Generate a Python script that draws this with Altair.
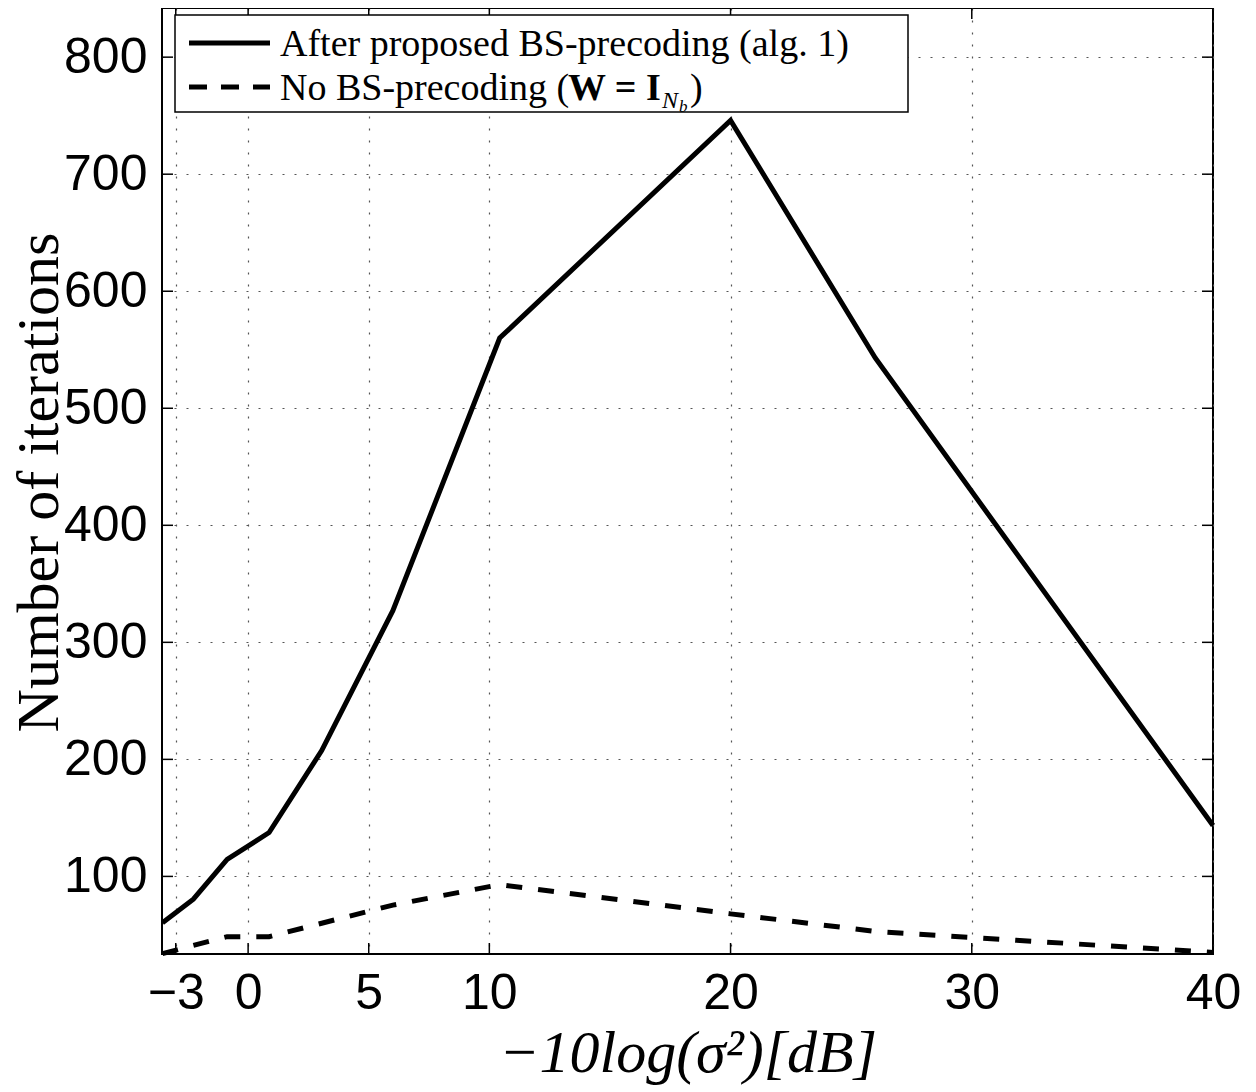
import altair as alt
import pandas as pd

# ---- data ----
x_db = [-3.55, -2.27, -0.87, 0.87, 3.05, 6.0, 10.43, 20.0, 26.0, 40.0]
iters_proposed = [60.5, 80.5, 114.5, 137.5, 207.5, 327, 560, 746, 543, 143.5]
iters_identity = [34, 41, 48.5, 48.5, 60, 75.5, 93, 68, 53, 35]
x_ticks = [-3, 0, 5, 10, 20, 30, 40]
y_ticks = [100, 200, 300, 400, 500, 600, 700, 800]
series_names = ["After proposed BS-precoding (alg. 1)", "No BS-precoding"]

W, H = 1051, 946
x_dom = [-3.57, 40]
y_dom = [33.7, 842]

df = pd.DataFrame({
    "x": x_db + x_db,
    "y": iters_proposed + iters_identity,
    "series": [series_names[0]] * len(x_db) + [series_names[1]] * len(x_db),
})

xs = alt.Scale(domain=x_dom, nice=False, zero=False)
ys = alt.Scale(domain=y_dom, nice=False, zero=False)

x_axis = alt.Axis(
    values=x_ticks, grid=True, gridDash=[2, 10], gridColor="#555", gridWidth=1.2,
    ticks=False, tickSize=0, domain=False, labelOverlap=False, labelFlush=False,
    labelFont="Liberation Sans", labelFontSize=50, labelColor="black",
    labelBaseline="alphabetic", labelPadding=54,
    title="−10log(σ²)[dB]", titleFont="Liberation Serif", titleFontStyle="italic",
    titleFontWeight="normal", titleFontSize=60, titleColor="black",
    titleBaseline="alphabetic", titleY=117,
)
y_axis = alt.Axis(
    values=y_ticks, grid=True, gridDash=[2, 10], gridColor="#555", gridWidth=1.2,
    ticks=False, tickSize=0, domain=False, labelOverlap=False, labelFlush=False,
    labelFont="Liberation Sans", labelFontSize=50, labelColor="black",
    labelBaseline="middle", labelPadding=15,
    title="Number of iterations", titleFont="Liberation Serif",
    titleFontWeight="normal", titleFontSize=60, titleColor="black",
    titleAngle=270, titleBaseline="alphabetic", titleAlign="center",
    titleX=-105, titleY=474,
)

base = alt.Chart(df)
solid = base.transform_filter(alt.datum.series == series_names[0]).mark_line(
    color="black", strokeWidth=5
).encode(x=alt.X("x:Q", scale=xs, axis=x_axis), y=alt.Y("y:Q", scale=ys, axis=y_axis))
dashed = base.transform_filter(alt.datum.series == series_names[1]).mark_line(
    color="black", strokeWidth=5, strokeDash=[16, 16]
).encode(x=alt.X("x:Q", scale=xs), y=alt.Y("y:Q", scale=ys))

xt = pd.DataFrame({"t": x_ticks})
yt = pd.DataFrame({"t": y_ticks})
tick_style = dict(color="black", strokeWidth=1.5)
ticks_bottom = alt.Chart(xt).mark_rule(**tick_style).encode(
    x=alt.X("t:Q", scale=xs), y=alt.value(H), y2=alt.value(H - 11))
ticks_top = alt.Chart(xt).mark_rule(**tick_style).encode(
    x=alt.X("t:Q", scale=xs), y=alt.value(0), y2=alt.value(11))
ticks_left = alt.Chart(yt).mark_rule(**tick_style).encode(
    y=alt.Y("t:Q", scale=ys), x=alt.value(0), x2=alt.value(11))
ticks_right = alt.Chart(yt).mark_rule(**tick_style).encode(
    y=alt.Y("t:Q", scale=ys), x=alt.value(W), x2=alt.value(W - 11))

one = pd.DataFrame({"a": [0]})
leg_box = alt.Chart(one).mark_rect(fill="white", stroke="black", strokeWidth=1.5).encode(
    x=alt.value(13), x2=alt.value(746), y=alt.value(7), y2=alt.value(104))
leg_solid = alt.Chart(one).mark_rule(color="black", strokeWidth=5).encode(
    x=alt.value(27), x2=alt.value(108), y=alt.value(35))
leg_dash = alt.Chart(one).mark_rule(color="black", strokeWidth=5, strokeDash=[18, 14]).encode(
    x=alt.value(27), x2=alt.value(108), y=alt.value(79))

serif = "Liberation Serif"
leg_t1 = alt.Chart(one).mark_text(align="left", baseline="alphabetic", font=serif,
                                  fontSize=38, color="black").encode(
    x=alt.value(118), y=alt.value(48), text=alt.value(series_names[0]))
leg_t2a = alt.Chart(one).mark_text(align="left", baseline="alphabetic", font=serif,
                                   fontSize=38, color="black").encode(
    x=alt.value(118), y=alt.value(92), text=alt.value(series_names[1] + " ("))
leg_t2b = alt.Chart(one).mark_text(align="left", baseline="alphabetic", font=serif,
                                   fontSize=38, fontWeight="bold", color="black").encode(
    x=alt.value(406), y=alt.value(92), text=alt.value("W = I"))
leg_t2c = alt.Chart(one).mark_text(align="left", baseline="alphabetic", font=serif,
                                   fontSize=24, fontStyle="italic", color="black").encode(
    x=alt.value(500), y=alt.value(100), text=alt.value("N"))
leg_t2d = alt.Chart(one).mark_text(align="left", baseline="alphabetic", font=serif,
                                   fontSize=17, fontStyle="italic", color="black").encode(
    x=alt.value(517), y=alt.value(104), text=alt.value("b"))
leg_t2e = alt.Chart(one).mark_text(align="left", baseline="alphabetic", font=serif,
                                   fontSize=38, color="black").encode(
    x=alt.value(528), y=alt.value(92), text=alt.value(")"))

chart = alt.layer(
    solid, dashed, ticks_bottom, ticks_top, ticks_left, ticks_right,
    leg_box, leg_solid, leg_dash, leg_t1, leg_t2a, leg_t2b, leg_t2c, leg_t2d, leg_t2e,
).properties(
    width=W, height=H,
    padding={"left": 154, "top": 0, "right": 35, "bottom": 134},
    autosize=alt.AutoSizeParams(type="none"),
    background="white",
).configure_view(stroke="black", strokeWidth=2)

chart.save("out.html", embed_options={"renderer": "svg", "actions": False})
